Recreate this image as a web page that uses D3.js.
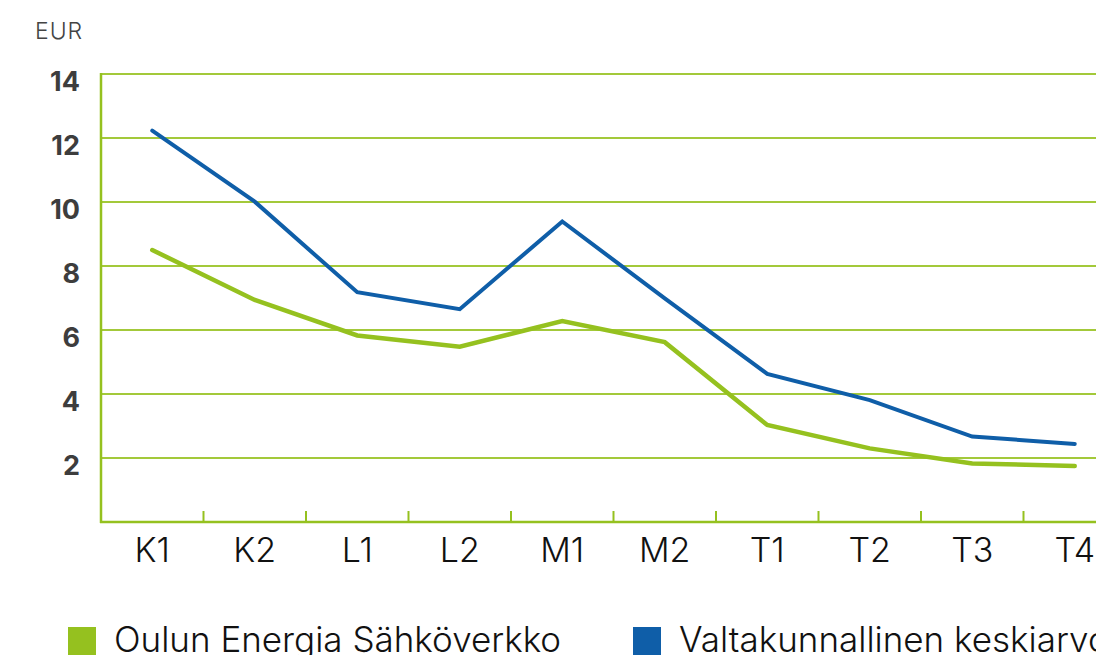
<!DOCTYPE html>
<html>
<head>
<meta charset="utf-8">
<title>Sähkön siirtohinnat</title>
<style type="text/css">
body{ margin: 0; background: #fff; }
svg{ display: block; font-family: Inter, "Open Sans", "DejaVu Sans", sans-serif; }
.grid line{ stroke: #a3c93a; stroke-width: 1.5; shape-rendering: crispEdges; }
.ylab{ font-weight: 700; font-size: 27px; fill: #3d3d3d; }
.xlab{ font-weight: 300; font-size: 34px; fill: #111; }
.unit{ font-weight: 300; font-size: 23px; fill: #444; letter-spacing: 1px; }
.legend text{ font-weight: 300; font-size: 35px; fill: #111; }
</style>
<script src="https://cdn.jsdelivr.net/npm/d3@7"></script>
</head>
<body>
<script>
// categories and series (EUR)
var categories = ["K1", "K2", "L1", "L2", "M1", "M2", "T1", "T2", "T3", "T4"];
var oulunEnergia = [8.5, 6.94, 5.83, 5.48, 6.28, 5.62, 3.03, 2.30, 1.83, 1.75];
var valtakunnallinen = [12.23, 10.01, 7.18, 6.65, 9.39, 6.99, 4.63, 3.81, 2.67, 2.44];
var yTicks = [2, 4, 6, 8, 10, 12, 14];
var seriesNames = ["Oulun Energia Sähköverkko", "Valtakunnallinen keskiarvo"];
var colors = ["#95c11f", "#0f5ea8"];

const width = 1096, height = 655;
const plotLeft = 101, plotTop = 74, plotBottom = 522;
const step = 102.5;

const svg = d3.select("body").append("svg").attr("width", width).attr("height", height);

const x = d3.scaleBand().domain(categories).range([plotLeft, plotLeft + step * categories.length]);
const y = d3.scaleLinear().domain([0, 14]).range([plotBottom, plotTop]);

// grid lines
svg.append("g").attr("class", "grid")
  .selectAll("line").data(yTicks).enter().append("line")
  .attr("x1", plotLeft).attr("x2", width)
  .attr("y1", d => y(d)).attr("y2", d => y(d));

// y labels
svg.selectAll("text.ylab").data(yTicks).enter().append("text")
  .attr("class", "ylab")
  .attr("x", 80).attr("y", d => y(d) + 17)
  .attr("text-anchor", "end")
  .text(d => d);

svg.append("text").attr("class", "unit").attr("x", 35).attr("y", 39).text("EUR");

// axis lines
const axisColor = "#95c11f";
svg.append("line").attr("x1", plotLeft).attr("x2", plotLeft).attr("y1", plotTop - 1).attr("y2", plotBottom + 1)
  .attr("stroke", axisColor).attr("stroke-width", 2.5);
svg.append("line").attr("x1", plotLeft - 1).attr("x2", width).attr("y1", plotBottom).attr("y2", plotBottom)
  .attr("stroke", axisColor).attr("stroke-width", 2.5);

// ticks between categories
svg.selectAll("line.tick").data(categories.slice(1)).enter().append("line")
  .attr("class", "tick")
  .attr("x1", d => x(d)).attr("x2", d => x(d))
  .attr("y1", plotBottom).attr("y2", plotBottom - 11)
  .attr("stroke", axisColor).attr("stroke-width", 2);

// x labels
svg.selectAll("text.xlab").data(categories).enter().append("text")
  .attr("class", "xlab")
  .attr("x", d => x(d) + x.bandwidth() / 2).attr("y", 562)
  .attr("text-anchor", "middle")
  .text(d => d);

// lines
const lineGen = d3.line()
  .x((d, i) => x(categories[i]) + x.bandwidth() / 2)
  .y(d => y(d));

[oulunEnergia, valtakunnallinen].forEach(function(s, i) {
  svg.append("path").datum(s)
    .attr("d", lineGen)
    .attr("fill", "none")
    .attr("stroke", colors[i])
    .attr("stroke-width", i == 0 ? 4.5 : 4)
    .attr("stroke-linejoin", "miter")
    .attr("stroke-linecap", "round");
});

// legend
const legendX = [68, 633];
const legend = svg.append("g").attr("class", "legend");
seriesNames.forEach(function(name, i) {
  legend.append("rect").attr("x", legendX[i]).attr("y", 627).attr("width", 28).attr("height", 28)
    .attr("fill", colors[i]);
  legend.append("text").attr("x", legendX[i] + 46).attr("y", 652).text(name);
});
</script>
</body>
</html>
